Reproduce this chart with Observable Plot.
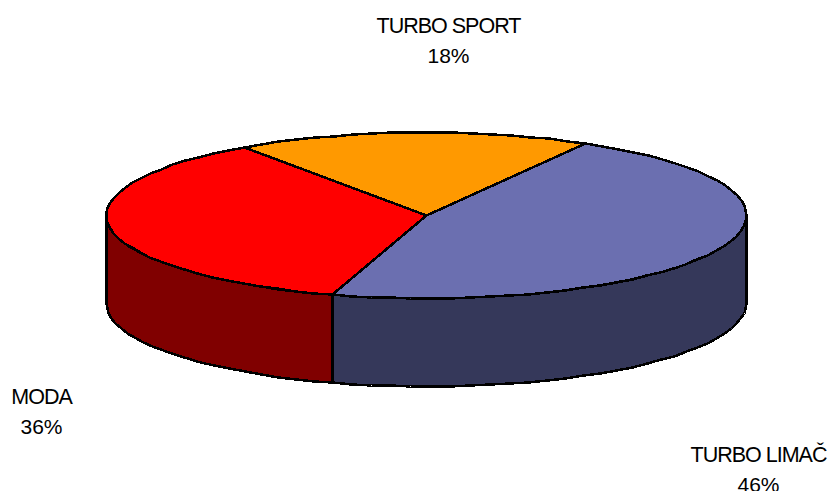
<!DOCTYPE html>
<html>
<head>
<meta charset="utf-8">
<script src="https://cdn.jsdelivr.net/npm/d3@7"></script>
<script src="https://cdn.jsdelivr.net/npm/@observablehq/plot@0.6"></script>
<style>html,body{margin:0;padding:0;background:#fff}svg{display:block}</style>
</head>
<body>
<div id="chart"></div>
<script>
const categories = ["TURBO SPORT", "TURBO LIMAČ", "MODA"];
const shares = [17.9, 46.49, 35.61];
const topColors = ["#FF9900", "#6B6FB0", "#FF0000"];
const sideColors = ["#996600", "#35385A", "#800000"];
const labelX = [448, 758, 41];
const labelY = [26, 454.5, 396.5];

const W = 828, H = 491;
const cx = 426, cy = 215, rx = 320, ry = 83, depth = 88, startDeg = -34.7;
const pt = (deg, dy = 0) => ({
  x: Math.round(cx + rx * Math.sin(deg * Math.PI / 180)),
  y: Math.round(cy - ry * Math.cos(deg * Math.PI / 180) + dy)
});
const arc = (a, b, dy = 0) => {
  const n = Math.max(2, Math.ceil(Math.abs(b - a) / 3.6));
  return d3.range(n + 1).map(i => pt(a + (b - a) * i / n, dy));
};

let acc = startDeg;
const slices = shares.map((s, i) => {
  const a = acc, b = acc + s * 3.6;
  acc = b;
  return {a, b, top: topColors[i], side: sideColors[i], name: categories[i], share: s};
});

const edge = {x: "x", y: "y", stroke: "#000", strokeWidth: 2.5, shapeRendering: "crispEdges"};
const marks = [];
for (const s of slices) {
  const a = Math.max(s.a, 90), b = Math.min(s.b, 270);
  if (b > a) {
    const front = arc(a, b), back = arc(b, a, depth);
    marks.push(Plot.line([...front, ...back, front[0]], {...edge, fill: s.side}));
  }
}
for (const s of slices) {
  const c = {x: cx, y: cy};
  marks.push(Plot.line([c, ...arc(s.a, s.b), c], {...edge, fill: s.top}));
}
const labels = categories.map((name, i) => ({name, pct: Math.round(shares[i]) + "%", x: labelX[i], y: labelY[i]}));
const textStyle = {x: "x", fontFamily: "Liberation Sans, Arial, sans-serif", fill: "#000", textAnchor: "middle"};
marks.push(Plot.text(labels, {...textStyle, fontSize: 21.5, y: "y", text: "name", className: "cat"}));
marks.push(Plot.text(labels, {...textStyle, fontSize: 21, y: d => d.y + 30, text: "pct"}));

const svg = Plot.plot({
  width: W, height: H, margin: 0,
  style: {background: "#fff", overflow: "hidden"},
  x: {domain: [0, W], range: [0, W], axis: null},
  y: {domain: [0, H], range: [0, H], axis: null},
  marks
});
svg.querySelectorAll(".cat text").forEach(t => t.style.letterSpacing = "-1px");
document.getElementById("chart").append(svg);
</script>
</body>
</html>
